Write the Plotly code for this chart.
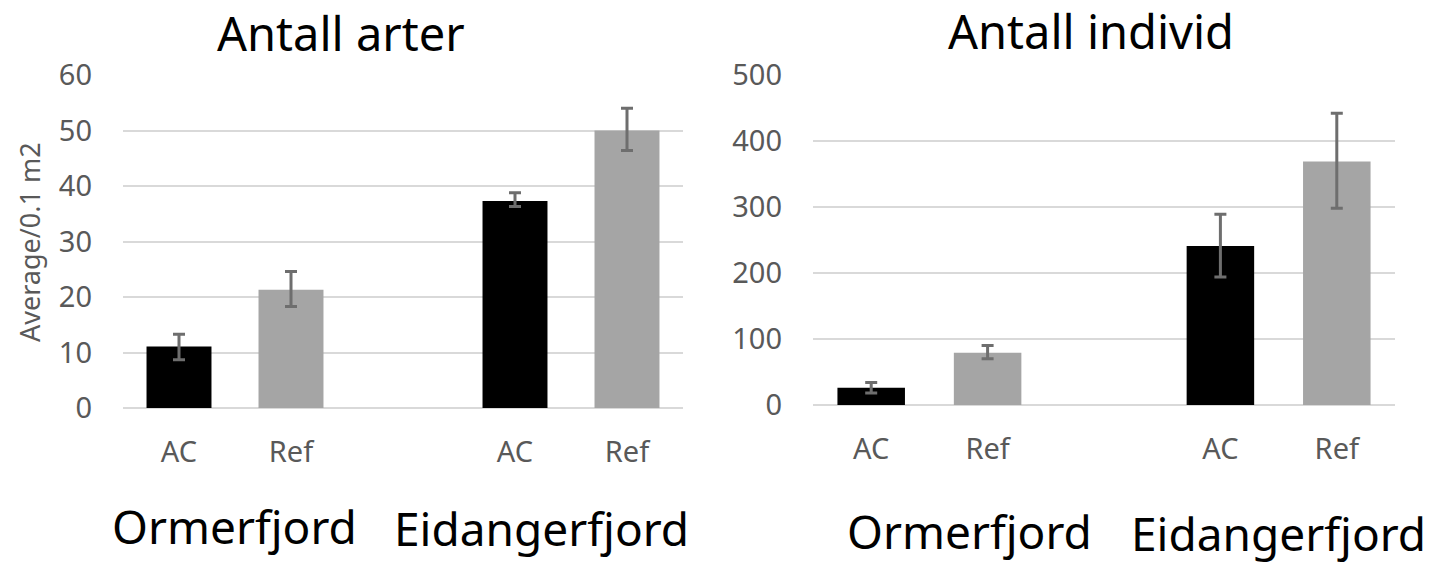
import plotly.graph_objects as go

# ---- data ----
fjords = ["Ormerfjord", "Eidangerfjord"]
treatments = ["AC", "Ref"]
# x categories (fjord|treatment), with a spacer between groups
cat_orm = ["Orm AC", "Orm Ref"]
cat_eid = ["Eid AC", "Eid Ref"]
spacer = "gap"
tick_labels = ["AC", "Ref", "", "AC", "Ref"]

# Antall arter (species count)
arter_ac = [11.1, 37.3]
arter_ac_up = [2.2, 1.5]
arter_ac_dn = [2.4, 1.0]
arter_ref = [21.3, 50.0]
arter_ref_up = [3.3, 4.0]
arter_ref_dn = [3.0, 3.6]

# Antall individ (individual count)
ind_ac = [26, 241]
ind_ac_up = [8, 48]
ind_ac_dn = [8, 47]
ind_ref = [79, 369]
ind_ref_up = [11, 73]
ind_ref_dn = [9, 71]

titles = ["Antall arter", "Antall individ"]
y_title = "Average/0.1 m2"
y_ranges = [[0, 60], [0, 500]]
y_dticks = [10, 100]

ac_color = "#000000"
ref_color = "#a5a5a5"
err_color = "#6e6e6e"
grid_color = "#d9d9d9"
tick_color = "#595959"
FONT = "Noto Sans, sans-serif"

x_ac = [cat_orm[0], cat_eid[0]]
x_ref = [cat_orm[1], cat_eid[1]]
cat_order = [cat_orm[0], cat_orm[1], spacer, cat_eid[0], cat_eid[1]]

fig = go.Figure()

def add_pair(xaxis, yaxis, ac, ac_up, ac_dn, ref, ref_up, ref_dn):
    for xs, ys, up, dn, col in [(x_ac, ac, ac_up, ac_dn, ac_color),
                               (x_ref, ref, ref_up, ref_dn, ref_color)]:
        fig.add_trace(go.Bar(
            x=xs, y=ys, xaxis=xaxis, yaxis=yaxis,
            marker=dict(color=col, line=dict(width=0)),
            error_y=dict(type="data", symmetric=False, array=up, arrayminus=dn,
                         color=err_color, thickness=3, width=6),
            showlegend=False,
        ))

add_pair("x", "y", arter_ac, arter_ac_up, arter_ac_dn, arter_ref, arter_ref_up, arter_ref_dn)
add_pair("x2", "y2", ind_ac, ind_ac_up, ind_ac_dn, ind_ref, ind_ref_up, ind_ref_dn)

# body margin is removed by the post script, so page pixels = figure pixels
W, H = 1432, 564
def px(x):
    return x / W
def py(y):
    return 1 - y / H

xdoms = [[px(123), px(683)], [px(813), px(1395)]]
ydoms = [[py(408), py(75)], [py(405), py(75)]]

xcommon = dict(type="category", categoryorder="array", categoryarray=cat_order,
               tickmode="array", tickvals=cat_order, ticktext=tick_labels,
               showgrid=False, zeroline=False, showline=False, ticks="", automargin=False,
               tickfont=dict(family=FONT, size=29, color=tick_color), ticklabelstandoff=24)
ycommon = dict(showgrid=True, gridcolor=grid_color, gridwidth=2, zeroline=True,
               zerolinecolor=grid_color, zerolinewidth=2, showline=False, ticks="", automargin=False,
               tickfont=dict(family=FONT, size=29, color=tick_color), ticklabelstandoff=30)

fig.update_layout(
    width=W, height=H, margin=dict(l=0, r=0, t=0, b=0, pad=0, autoexpand=False),
    paper_bgcolor="white", plot_bgcolor="white",
    bargap=0.42, barmode="overlay",
    xaxis=dict(domain=xdoms[0], anchor="y", **xcommon),
    xaxis2=dict(domain=xdoms[1], anchor="y2", **xcommon),
    yaxis=dict(domain=ydoms[0], anchor="x", range=y_ranges[0], dtick=y_dticks[0], **ycommon),
    yaxis2=dict(domain=ydoms[1], anchor="x2", range=y_ranges[1], dtick=y_dticks[1], **ycommon),
)

annots = [
    dict(text=titles[0], x=341, y=33, size=47, color="#000000", angle=0),
    dict(text=titles[1], x=1091, y=31, size=47, color="#000000", angle=0),
    dict(text=fjords[0], x=234, y=526, size=46, color="#000000", angle=0),
    dict(text=fjords[1], x=541, y=528, size=46, color="#000000", angle=0),
    dict(text=fjords[0], x=969, y=531, size=46, color="#000000", angle=0),
    dict(text=fjords[1], x=1278, y=533, size=46, color="#000000", angle=0),
    dict(text=y_title, x=29, y=242, size=27, color=tick_color, angle=-90),
]
for a in annots:
    fig.add_annotation(text=a["text"], x=px(a["x"]), y=py(a["y"]), xref="paper", yref="paper",
                       xanchor="center", yanchor="middle", showarrow=False, textangle=a["angle"],
                       borderpad=0,
                       font=dict(family=FONT, size=a["size"], color=a["color"]))

fig.write_html("out.html", config={"displayModeBar": False},
               post_script="document.body.style.margin='0px';document.body.style.overflow='hidden';")
